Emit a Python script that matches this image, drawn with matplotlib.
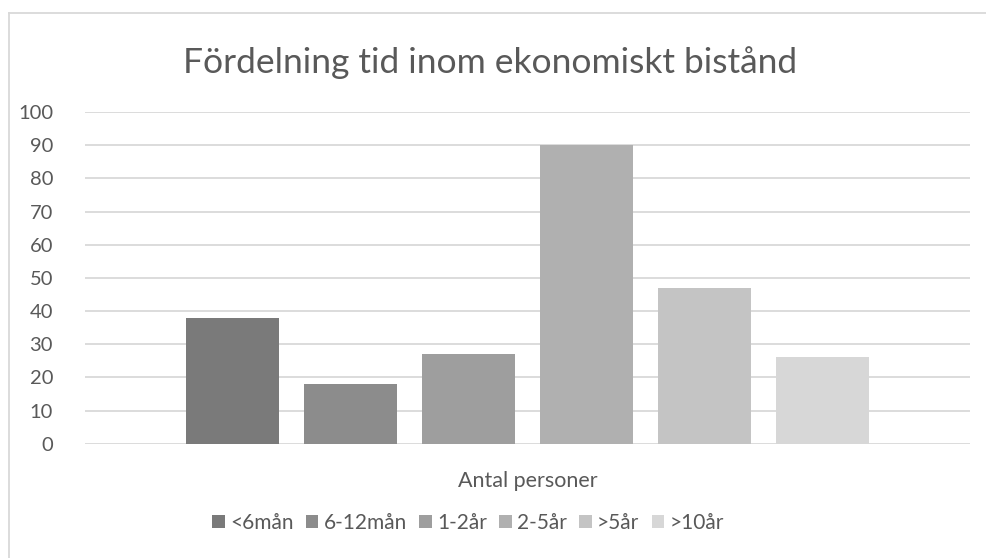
import matplotlib
matplotlib.use("Agg")
import matplotlib.pyplot as plt
from matplotlib.patches import Patch
from matplotlib.lines import Line2D
import numpy as np

plt.rcParams['font.family'] = ['Lato', 'DejaVu Sans']

title = "Fördelning tid inom ekonomiskt bistånd"
category = "Antal personer"
series = ["<6mån", "6-12mån", "1-2år", "2-5år", ">5år", ">10år"]
values = [38, 18, 27, 90, 47, 26]
bar_colors = ["#7a7a7a", "#8c8c8c", "#9e9e9e", "#b0b0b0", "#c4c4c4", "#d7d7d7"]
yticks = list(range(0, 101, 10))

text_color = "#595959"
grid_color = "#d9d9d9"

fig = plt.figure(figsize=(9.86, 5.58), dpi=100)
ax = fig.add_axes([85 / 986, 1 - 443.7 / 558, 885 / 986, (443.7 - 112) / 558])

# clustered columns: one category, six series
step = 118 / 885
width = 93 / 885
offsets = (np.arange(len(series)) - (len(series) - 1) / 2) * step
for off, val, col, name in zip(offsets, values, bar_colors, series):
    ax.bar(off, val, width=width, color=col, label=name, zorder=3)

ax.set_xlim(-0.5, 0.5)
ax.set_ylim(0, 100)
ax.set_yticks(yticks)
ax.set_xticks([0])
ax.set_xticklabels([category])
ax.yaxis.grid(True, color=grid_color, linewidth=1.3, zorder=0)
ax.set_axisbelow(True)
for s in ax.spines.values():
    s.set_visible(False)
ax.tick_params(axis="y", length=0, pad=23, labelsize=14.5, labelcolor=text_color)
ax.tick_params(axis="x", length=0, pad=20, labelsize=15.5, labelcolor=text_color)

fig.text(490 / 986, 1 - 63 / 558, title, ha="center", va="center",
         fontsize=25.5, color=text_color)

handles = [Patch(facecolor=c, edgecolor="none") for c in bar_colors]
fig.legend(handles, series, loc="center", bbox_to_anchor=(468 / 986, 1 - 523 / 558),
           ncol=6, frameon=False, fontsize=15, labelcolor=text_color,
           handlelength=0.6, handleheight=0.6, handletextpad=0.25,
           columnspacing=0.6)

# outer chart frame (left and top edges visible)
fig.add_artist(Line2D([8.5 / 986, 8.5 / 986], [0, 1 - 13 / 558],
                      transform=fig.transFigure, color=grid_color, linewidth=1.3))
fig.add_artist(Line2D([8.5 / 986, 1], [1 - 13 / 558, 1 - 13 / 558],
                      transform=fig.transFigure, color=grid_color, linewidth=1.3))

fig.savefig("out.png", dpi=100)
